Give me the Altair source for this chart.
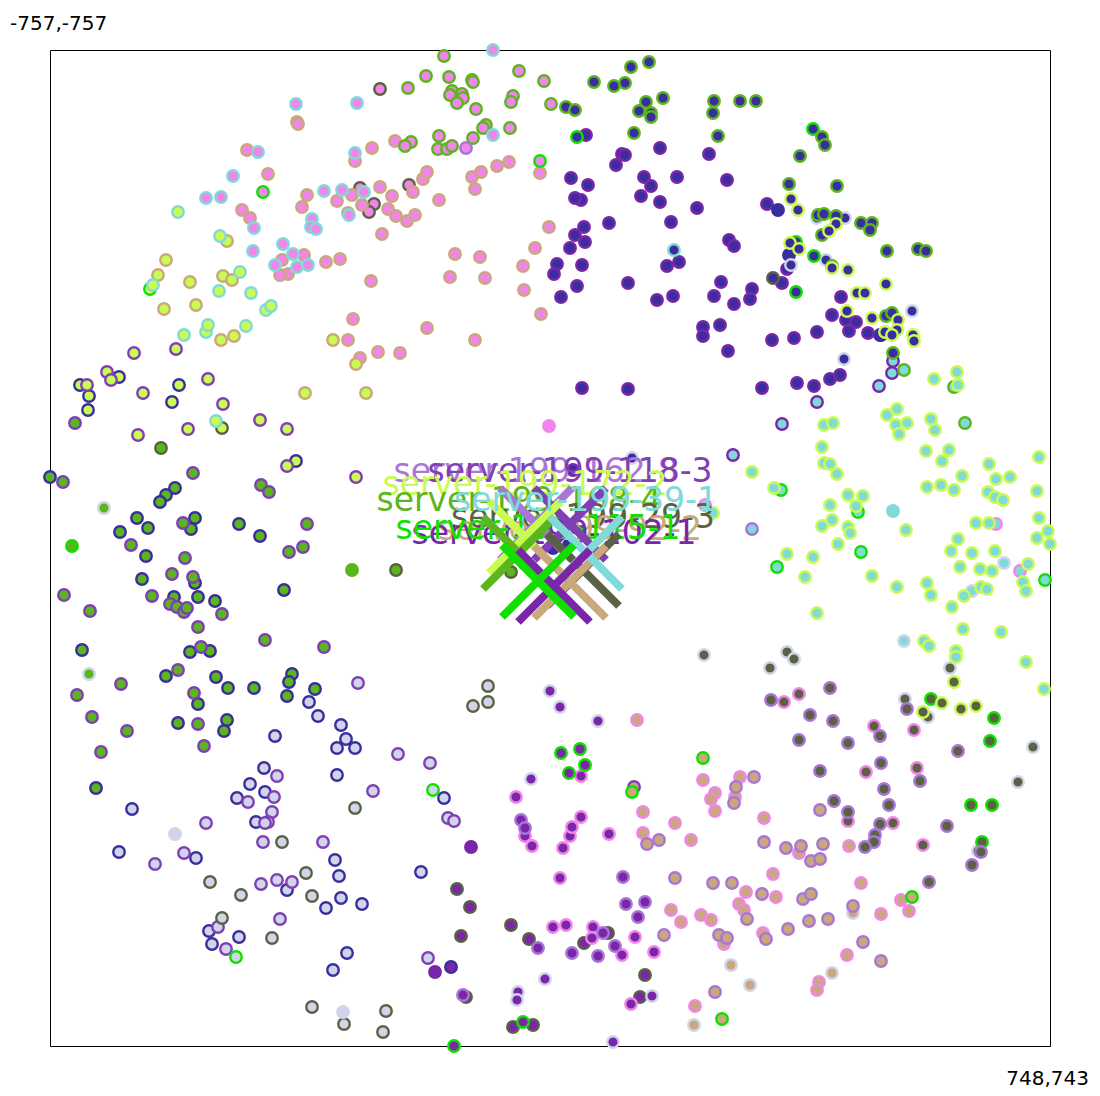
import altair as alt
import pandas as pd

# Server names and colours
SERVER_KEYS = ["A", "B", "C", "D", "E", "F", "G", "H", "I", "J", "K", "L"]
SERVER_COLORS = ["#3a2e9e", "#7f3fb5", "#7a26a8", "#a976d8", "#f285ea", "#c9a97b",
                 "#5b6243", "#10e000", "#5bb51c", "#c9fb52", "#7fdad8", "#d0d5ea"]

# Corner labels of the plot give the data range
X_MIN, X_MAX = -757, 748
Y_MIN, Y_MAX = -757, 743

# Readings from the picture on a 0-1000-ish ruler (offset 50), calibrated to data units below
E_I = [(444,56),(426,76),(449,77),(408,88),(472,80),(473,82),(519,71),(544,81),(452,91),(462,94),(450,95),(463,98),(457,103),(476,109),(513,96),(511,102),(551,104),(486,125),(483,128),(510,128),(473,138),(439,136),(411,142),(405,146),(438,149),(447,149),(452,146)]
E_K = [(493,50),(296,104),(357,103),(493,135),(258,152),(355,153),(233,176),(206,198),(221,197),(324,191),(342,190),(364,192),(349,215),(254,228),(312,219),(311,227),(316,229),(283,244),(253,251),(293,254),(275,265),(297,267),(308,265)]
E_F = [(297,122),(298,124),(247,150),(268,174),(372,148),(395,141),(355,161),(307,195),(302,207),(337,201),(352,195),(362,205),(380,187),(392,196),(388,209),(396,216),(407,221),(415,215),(413,192),(423,179),(427,172),(439,200),(382,234),(472,177),(481,172),(497,166),(509,162),(540,173),(475,189),(242,210),(250,218),(304,255),(282,260),(326,262),(340,259),(288,274),(280,275),(455,254),(480,257),(535,248),(549,227),(523,266),(450,277),(485,278),(371,281),(524,290),(348,213),(353,319),(348,340),(360,358),(378,352),(400,353),(427,328),(475,340),(541,314)]
E_G = [(380,89),(360,188),(409,185),(374,204),(369,212)]
E_H = [(263,192),(540,161)]
E_D = [(466,148)]
E_E = [(549,426)]

J_K = [(178,212),(220,236),(240,272),(219,291),(251,293),(153,285),(184,335),(206,332),(208,325),(246,326),(266,310),(271,306),(216,421)]
J_F = [(227,241),(166,260),(158,275),(190,282),(223,276),(232,280),(164,309),(196,305),(221,340),(234,336),(333,340),(356,364),(305,393),(366,393)]
J_H = [(150,289)]
J_B = [(134,353),(176,349),(107,372),(111,380),(87,385),(143,393),(208,379),(223,404),(138,435),(188,429),(260,420),(287,429),(287,466),(356,477)]
J_A = [(119,377),(80,385),(89,396),(88,410),(179,385),(172,402),(296,461)]
J_G = [(222,428)]

I_B = [(75,423),(63,482),(193,473),(261,485),(269,492),(183,523),(131,545),(185,558),(172,574),(193,577),(307,524),(303,547),(289,552),(64,595),(90,611),(152,596),(170,604),(177,607),(184,612),(187,608),(222,614),(198,627),(265,640),(324,647),(201,647),(178,670),(121,684),(77,695),(194,693),(92,717),(127,731),(101,752),(198,724),(204,746)]
I_A = [(50,477),(175,488),(166,495),(160,502),(137,518),(148,528),(120,532),(195,518),(191,529),(239,524),(260,536),(146,556),(142,579),(195,583),(284,590),(174,597),(198,597),(215,601),(82,650),(190,652),(210,651),(166,676),(216,677),(228,688),(254,688),(292,674),(289,682),(287,696),(315,689),(198,704),(178,723),(227,720),(224,731),(96,788)]
I_L = [(104,508),(89,674)]
I_G = [(161,448),(396,570),(511,572)]
I_H = [(72,546)]
I_I = [(352,570)]

L_A = [(309,702),(318,716),(341,725),(346,739),(337,748),(355,748),(275,736),(337,775),(264,768),(250,784),(265,792),(237,798),(132,809),(256,822),(119,852),(196,858),(335,860),(339,876),(287,890),(341,898),(326,908),(362,904),(421,872),(209,931),(239,937),(212,944),(347,953),(333,970),(444,798)]
L_B = [(358,683),(398,754),(430,763),(373,791),(277,776),(274,797),(248,802),(272,812),(268,822),(265,823),(206,823),(263,842),(323,842),(184,853),(155,864),(261,884),(277,880),(292,882),(280,919),(218,927),(226,949),(428,958),(448,818),(454,821)]
L_G = [(473,706),(355,808),(282,842),(210,882),(241,895),(306,873),(312,896),(222,918),(272,938),(312,1007),(386,1011),(344,1024),(383,1032),(488,686),(488,702)]
L_H = [(433,790),(236,957)]
L_L = [(175,834),(343,1012)]

C_C = [(471,847),(435,972)]
C_G = [(457,889),(470,907),(461,936),(511,925),(529,939),(584,943),(608,933),(645,975),(640,997),(466,997),(513,1027),(533,1025)]
C_A = [(451,967)]
C_D = [(463,995),(521,820),(525,828),(538,948),(572,953),(598,956),(603,933),(615,946),(623,877),(626,904),(645,902),(638,917)]
C_H = [(454,1046),(561,753),(580,749),(585,765),(569,773),(523,1022)]
C_E = [(581,776),(516,797),(525,836),(532,846),(563,848),(570,836),(572,827),(581,817),(609,834),(560,878),(553,927),(566,925),(593,927),(592,938),(622,955),(635,937),(654,952),(631,1004)]
C_L = [(550,691),(560,707),(598,721),(531,779),(545,979),(518,992),(517,1000),(652,996),(613,1042)]

F_E = [(637,720),(703,780),(715,793),(711,799),(715,811),(643,812),(675,823),(643,833),(691,840),(671,910),(681,922),(701,915),(711,920),(695,1006),(740,777),(735,797),(764,818),(849,846),(799,853),(773,874),(861,883),(746,892),(776,897),(739,904),(744,910),(881,914),(901,900),(909,911),(763,933),(724,944),(847,955),(819,982),(817,990)]
F_D = [(754,777),(736,787),(734,803),(820,810),(764,842),(786,848),(801,846),(823,844),(811,861),(820,859),(713,883),(732,883),(762,894),(803,899),(811,894),(853,906),(747,919),(788,929),(809,921),(828,919),(719,935),(727,938),(766,939),(863,942),(881,961),(715,992),(647,844),(659,840),(675,878),(664,935)]
F_H = [(703,758),(912,897),(722,1019),(632,792)]
F_L = [(731,965),(750,985),(832,973),(853,913),(694,1025)]
F_B = [(634,787)]

G_D = [(771,700),(830,688),(810,715),(833,721),(907,709),(880,736),(799,740),(848,743),(958,751),(881,763),(820,771),(920,781),(884,789),(834,801),(889,805),(848,812),(880,824),(947,826),(875,835),(874,842),(865,847),(981,852),(972,865),(929,882)]
G_E = [(784,702),(799,694),(874,726),(914,730),(866,772),(917,768),(848,821),(893,823),(923,845)]
G_L = [(704,655),(787,652),(794,659),(770,668),(950,668),(905,699),(928,717),(1033,747),(1018,782),(978,851)]
G_J = [(954,682),(942,703),(923,712),(961,709),(976,706)]
G_H = [(931,699),(994,718),(990,741),(971,805),(992,805),(982,842)]

K_J = [(934,379),(957,372),(958,385),(824,425),(833,423),(887,415),(897,409),(896,425),(907,423),(899,434),(931,419),(935,430),(822,447),(824,463),(830,464),(837,474),(926,451),(949,450),(942,461),(989,464),(1039,457),(752,472),(774,488),(962,476),(996,479),(1010,477),(927,487),(941,485),(954,490),(988,492),(995,497),(1003,500),(1037,491),(848,495),(863,496),(830,505),(856,506),(1039,518),(832,520),(822,526),(848,527),(850,533),(976,523),(989,523),(713,513),(906,530),(1048,531),(1037,538),(1050,544),(958,539),(838,544),(951,551),(972,553),(995,551),(787,554),(813,557),(1028,564),(960,567),(980,569),(992,571),(805,577),(872,576),(1023,582),(1026,591),(897,587),(927,583),(931,595),(981,587),(987,589),(964,596),(952,607),(817,613),(963,629),(1001,632),(924,641),(929,646),(956,651),(956,657),(1026,662),(1044,689)]
K_I = [(904,370),(954,387),(965,423)]
K_C = [(893,361),(892,373),(879,386),(817,402),(782,424),(733,455)]
K_D = [(752,529)]
K_E = [(996,524),(1020,571),(705,505)]
K_H = [(781,490),(858,512),(861,552),(777,567),(1045,580)]
K_L = [(1004,563),(972,591),(904,641)]
K_K = [(893,511)]

A_I = [(649,62),(631,67),(594,82),(614,86),(625,83),(566,107),(575,110),(663,98),(646,102),(639,111),(651,113),(651,117),(714,101),(740,101),(756,101),(713,113),(634,133),(718,136),(822,137),(825,145),(800,156),(789,184),(837,186),(818,215),(824,214),(836,216),(861,223),(872,223),(870,230),(822,235),(887,251),(918,249),(926,251),(832,266),(886,316),(892,313),(893,353)]
A_H = [(577,137),(813,129),(814,256),(796,292),(796,242)]
A_C = [(586,135),(622,154),(625,155),(616,165),(660,148),(709,154),(571,178),(588,185),(644,177),(651,186),(677,177),(727,180),(641,196),(581,200),(575,198),(660,202),(697,208),(767,204),(609,223),(671,222),(584,227),(575,235),(585,242),(570,248),(729,240),(734,246),(679,262),(667,266),(557,264),(554,274),(582,265),(577,286),(561,297),(628,283),(657,300),(673,296),(721,282),(714,296),(734,304),(752,289),(750,299),(782,283),(787,269),(841,297),(832,315),(846,320),(856,322),(849,331),(868,333),(880,335),(703,327),(703,336),(720,325),(772,340),(794,338),(817,332),(728,351),(582,388),(628,389),(762,388),(797,383),(814,386),(830,379),(840,375),(573,470)]
A_A = [(778,210),(789,255),(881,335),(553,548),(569,545)]
A_J = [(791,199),(798,210),(836,224),(829,231),(790,243),(799,249),(832,268),(848,270),(857,293),(865,293),(886,284),(847,311),(872,318),(898,320),(897,330),(885,332),(892,335),(913,335),(914,341)]
A_L = [(817,218),(845,218),(826,260),(791,265),(912,311),(844,359),(632,458)]
A_K = [(674,250)]
A_G = [(773,278)]

# Groups in paint order: (fill server, stroke server, readings)
POINT_GROUPS = [
    ("A","C",A_C),("C","A",C_A),("L","A",L_A),("I","A",I_A),("J","A",J_A),("A","A",A_A),
    ("F","B",F_B),("L","B",L_B),("I","B",I_B),("J","B",J_B),
    ("K","C",K_C),("C","C",C_C),
    ("A","G",A_G),("C","G",C_G),("L","G",L_G),("I","G",I_G),("J","G",J_G),("E","G",E_G),
    ("A","L",A_L),("C","L",C_L),("F","L",F_L),("G","L",G_L),("K","L",K_L),("I","L",I_L),("L","L",L_L),
    ("C","E",C_E),("F","E",F_E),("G","E",G_E),("K","E",K_E),("E","E",E_E),
    ("E","F",E_F),("J","F",J_F),
    ("A","H",A_H),("C","H",C_H),("E","H",E_H),("F","H",F_H),("G","H",G_H),("I","H",I_H),("J","H",J_H),("K","H",K_H),("L","H",L_H),
    ("A","I",A_I),("E","I",E_I),("K","I",K_I),("I","I",I_I),
    ("C","D",C_D),("E","D",E_D),("F","D",F_D),("G","D",G_D),("K","D",K_D),
    ("A","J",A_J),("G","J",G_J),("K","J",K_J),
    ("A","K",A_K),("E","K",E_K),("J","K",J_K),("K","K",K_K),
]

# Server markers, in paint order
SERVER_NAMES = ["server-199-162-8","server-199-118-3","server-199-172-2","server-199-168-4","server-199-29-3",
                "server-199-92-2","server-199-39-1","server-199-102-1","server-199-115-1"]
SERVER_STROKES = ["D","B","J","I","G","F","K","C","H"]
SERVER_READ_X = [536,570,525,519,583,570,586,554,538]
SERVER_READ_Y = [524,524,537,553,570,582,553,586,581]

CORNER_TEXT = ["-757,-757", "748,743"]


def to_x(v):
    return X_MIN + (v - 50) * (X_MAX - X_MIN) / 1000


def to_y(v):
    return Y_MIN + (v - 50) * (Y_MAX - Y_MIN) / 996


rows = []
for fill_key, stroke_key, pts in POINT_GROUPS:
    for px, py in pts:
        rows.append({"x": to_x(px), "y": to_y(py), "fill_server": fill_key, "stroke_server": stroke_key})
points_df = pd.DataFrame(rows)

servers_df = pd.DataFrame({
    "x": [to_x(v) for v in SERVER_READ_X],
    "y": [to_y(v) for v in SERVER_READ_Y],
    "name": SERVER_NAMES,
    "server": SERVER_STROKES,
})

x_enc = alt.X("x:Q", axis=None, scale=alt.Scale(domain=[X_MIN, X_MAX], nice=False, zero=False))
y_enc = alt.Y("y:Q", axis=None, scale=alt.Scale(domain=[Y_MIN, Y_MAX], nice=False, zero=False, reverse=True))
color_scale = alt.Scale(domain=SERVER_KEYS, range=SERVER_COLORS)

points = alt.Chart(points_df).mark_point(
    shape="circle", filled=True, size=132, strokeWidth=2.4, opacity=1
).encode(
    x=x_enc, y=y_enc,
    fill=alt.Fill("fill_server:N", scale=color_scale, legend=None),
    stroke=alt.Stroke("stroke_server:N", scale=color_scale, legend=None),
)


def label_layer(frame):
    return alt.Chart(frame).mark_text(
        font="DejaVu Sans", fontSize=33, align="center", baseline="alphabetic", dy=-42
    ).encode(
        x=x_enc, y=y_enc, text="name:N",
        color=alt.Color("server:N", scale=color_scale, legend=None),
    )


labels_under = label_layer(servers_df[servers_df["server"] != "K"])
labels_over = label_layer(servers_df[servers_df["server"] == "K"])

crosses = alt.Chart(servers_df).mark_point(
    shape="M-1,-1L1,1M1,-1L-1,1", filled=False, size=5184, strokeWidth=8, opacity=1
).encode(
    x=x_enc, y=y_enc,
    stroke=alt.Stroke("server:N", scale=color_scale, legend=None),
)

corner_a = alt.Chart(pd.DataFrame({"x": [X_MIN], "y": [Y_MIN], "t": [CORNER_TEXT[0]]})).mark_text(
    font="DejaVu Sans", fontSize=20, align="left", baseline="alphabetic", color="black", dx=-40, dy=-20
).encode(x=x_enc, y=y_enc, text="t:N")

corner_b = alt.Chart(pd.DataFrame({"x": [X_MAX], "y": [Y_MAX], "t": [CORNER_TEXT[1]]})).mark_text(
    font="DejaVu Sans", fontSize=20, align="right", baseline="alphabetic", color="black", dx=39, dy=39
).encode(x=x_enc, y=y_enc, text="t:N")

chart = alt.layer(points, labels_under, crosses, labels_over, corner_a, corner_b).properties(
    width=1000, height=996,
    padding={"left": 42, "top": 42, "right": 42, "bottom": 42},
    autosize=alt.AutoSizeParams(type="none"),
    background="white",
).configure_view(stroke="black", strokeWidth=1)

chart.save("out.html", embed_options={"renderer": "svg", "actions": False})
